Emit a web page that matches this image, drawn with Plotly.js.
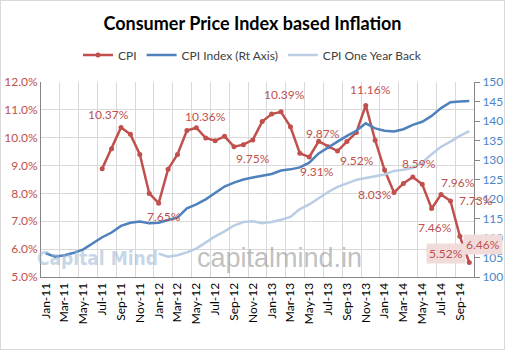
<!DOCTYPE html>
<html>
<head>
<meta charset="utf-8">
<script src="https://cdn.plot.ly/plotly-3.0.1.min.js"></script>
<style>
  html, body { margin: 0; padding: 0; background: #ffffff; }
  #chart { width: 503px; height: 348px; border: 1px solid #d9d9d9; }
</style>
</head>
<body>
<div id="chart"></div>
<script>
// ---- Data ----
const months = [
  "Jan-11","Feb-11","Mar-11","Apr-11","May-11","Jun-11","Jul-11","Aug-11","Sep-11","Oct-11","Nov-11","Dec-11",
  "Jan-12","Feb-12","Mar-12","Apr-12","May-12","Jun-12","Jul-12","Aug-12","Sep-12","Oct-12","Nov-12","Dec-12",
  "Jan-13","Feb-13","Mar-13","Apr-13","May-13","Jun-13","Jul-13","Aug-13","Sep-13","Oct-13","Nov-13","Dec-13",
  "Jan-14","Feb-14","Mar-14","Apr-14","May-14","Jun-14","Jul-14","Aug-14","Sep-14","Oct-14"
];

// CPI inflation, % (left axis)
const cpi = [
  null, null, null, null, null, null, 8.89, 9.60, 10.37, 10.12, 9.40, 8.00,
  7.65, 8.87, 9.40, 10.26, 10.36, 9.99, 9.89, 10.05, 9.68, 9.75, 9.92, 10.58,
  10.85, 10.93, 10.39, 9.44, 9.31, 9.87, 9.68, 9.52, 9.86, 10.19, 11.16, 9.91,
  8.84, 8.03, 8.36, 8.59, 8.33, 7.46, 7.96, 7.73, 6.46, 5.52
];

// CPI Index (right axis)
const cpiIndex = [
  106.1, 105.2, 105.6, 106.2, 107.1, 108.6, 110.2, 111.4, 113.1, 113.9, 114.2, 113.8,
  113.9, 114.6, 115.2, 117.6, 118.6, 119.9, 121.5, 123.2, 124.2, 125.0, 125.5, 125.9,
  126.4, 127.3, 127.6, 128.1, 129.3, 131.7, 133.3, 134.7, 136.2, 137.5, 139.4, 138.1,
  137.5, 137.3, 137.9, 139.0, 139.8, 141.3, 143.3, 144.8, 145.0, 145.1
];

// CPI One Year Back (right axis)
const cpiYearBack = [
  null, null, null, null, null, null, null, null, null, null, null, null,
  106.0, 105.2, 105.6, 106.3, 107.3, 108.9, 110.4, 111.7, 113.2, 114.1, 114.3, 113.8,
  114.1, 114.7, 115.4, 117.4, 118.6, 120.2, 121.8, 123.1, 124.1, 124.9, 125.4, 125.8,
  126.3, 127.2, 127.5, 128.0, 129.3, 131.5, 133.4, 134.7, 136.2, 137.4
];

// Data labels shown on the CPI line
const labelMonths = ["Sep-11","Jan-12","May-12","Oct-12","Mar-13","May-13","Jun-13","Aug-13",
                     "Nov-13","Feb-14","Apr-14","Jun-14","Jul-14","Aug-14","Sep-14","Oct-14"];

// ---- Styles ----
const labelOffsets = {  // [dx, dy] in px (dy positive = downwards)
  "Sep-11":[-13,-13], "Jan-12":[5,13], "May-12":[9,-11], "Oct-12":[10,14],
  "Mar-13":[-6,-32], "May-13":[8,15], "Jun-13":[4,-8], "Aug-13":[19,9],
  "Nov-13":[5,-16], "Feb-14":[-19,2], "Apr-14":[6,-13], "Jun-14":[3,19],
  "Jul-14":[17,-12], "Aug-14":[26,0], "Sep-14":[23,8], "Oct-14":[-23,-9]
};
const boxed = {"Sep-14": true, "Oct-14": true};

const RED = "#c0504d", BLUE = "#4f81bd", LIGHT = "#b9cde5";
const FONT = "Lato, 'Open Sans', sans-serif";

const traces = [
  {
    x: months, y: cpiYearBack, name: "CPI One Year Back", type: "scatter", mode: "lines",
    yaxis: "y2", line: {color: LIGHT, width: 2.5}, legendrank: 3, connectgaps: false
  },
  {
    x: months, y: cpiIndex, name: "CPI Index (Rt Axis)", type: "scatter", mode: "lines",
    yaxis: "y2", line: {color: BLUE, width: 2.5}, legendrank: 2
  },
  {
    x: months, y: cpi, name: "CPI", type: "scatter", mode: "lines+markers",
    line: {color: RED, width: 2.5}, marker: {color: RED, size: 5}, legendrank: 1
  }
];

const annotations = labelMonths.map(m => {
  const i = months.indexOf(m);
  const v = cpi[i];
  const off = labelOffsets[m];
  const a = {
    x: m, y: v, xref: "x", yref: "y", text: v.toFixed(2) + "%", showarrow: false,
    xanchor: "center", yanchor: "middle", xshift: off[0], yshift: -off[1],
    font: {family: FONT, size: 12, color: RED}
  };
  if (boxed[m]) { a.bgcolor = "#f2dcdb"; a.borderpad = 2; }
  return a;
});

// watermarks
annotations.unshift(
  {
    xref: "paper", yref: "paper", x: 0.13, y: 0.10, text: "<b>Capital Mind</b>", showarrow: false,
    xanchor: "center", yanchor: "middle",
    font: {family: "'Liberation Sans Narrow', 'DejaVu Sans Condensed', sans-serif", size: 19, color: "rgba(150,180,210,0.55)"}
  },
  {
    xref: "paper", yref: "paper", x: 0.551, y: 0.095, text: "capitalmind.in", showarrow: false,
    xanchor: "center", yanchor: "middle",
    font: {family: "'Liberation Sans', Arial, sans-serif", size: 27, color: "rgba(150,150,150,0.6)"}
  }
);

const layout = {
  width: 503, height: 348,
  margin: {l: 40, r: 30, t: 81, b: 72, pad: 0},
  paper_bgcolor: "#ffffff", plot_bgcolor: "#ffffff",
  font: {family: FONT, size: 12, color: "#404040"},
  title: {
    text: "<b>Consumer Price Index based Inflation</b>",
    font: {family: FONT, size: 18, color: "#000000"},
    x: 0.5, xanchor: "center", y: 0.935, yref: "container", yanchor: "middle"
  },
  showlegend: true,
  legend: {
    orientation: "h", x: 0.5, xanchor: "center", xref: "container",
    y: 0.845, yref: "container", yanchor: "middle",
    font: {family: FONT, size: 12, color: "#404040"}
  },
  xaxis: {
    type: "category", range: [-0.5, 45.5], tickmode: "linear", tick0: 0, dtick: 2,
    tickson: "boundaries", tickangle: -90, showgrid: true, gridcolor: "#d9d9d9", gridwidth: 1,
    showline: true, linecolor: "#868686", linewidth: 1, ticks: "", zeroline: false,
    tickfont: {family: FONT, size: 12, color: "#000000"}
  },
  yaxis: {
    range: [5, 12], tickmode: "linear", tick0: 5, dtick: 1, tickformat: ".1f", ticksuffix: "%",
    showgrid: true, gridcolor: "#d9d9d9", gridwidth: 1, zeroline: false,
    showline: true, linecolor: "#868686", linewidth: 1, ticks: "",
    tickfont: {family: FONT, size: 12, color: RED}
  },
  yaxis2: {
    overlaying: "y", side: "right", range: [100, 150], tickmode: "linear", tick0: 100, dtick: 5,
    showgrid: false, zeroline: false, showline: true, linecolor: "#868686", linewidth: 1,
    ticks: "outside", ticklen: 5, tickcolor: "#868686",
    tickfont: {family: FONT, size: 12, color: "#4a86c8"}
  },
  annotations: annotations
};

Plotly.newPlot("chart", traces, layout, {displayModeBar: false, staticPlot: true});
</script>
</body>
</html>
